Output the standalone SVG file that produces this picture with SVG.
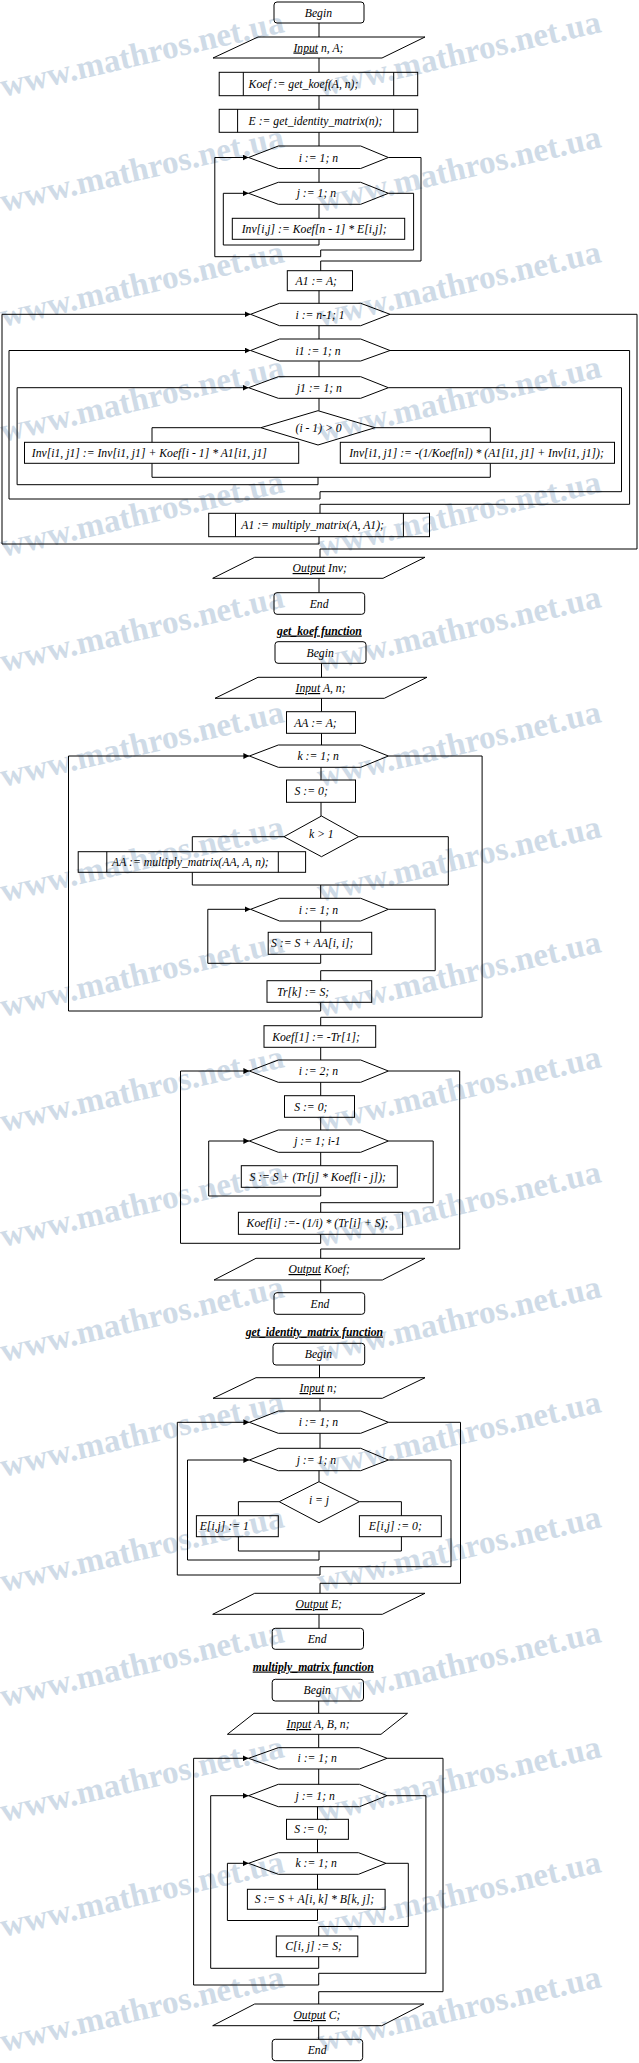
<svg xmlns="http://www.w3.org/2000/svg" width="639" height="2063" viewBox="0 0 639 2063">
<defs>
<marker id="arr" markerUnits="userSpaceOnUse" markerWidth="7" markerHeight="6" refX="6" refY="3" orient="auto"><path d="M0,0 L6,3 L0,6 z" fill="#000"/></marker>
</defs>
<style>
.s{fill:none;stroke:#000;stroke-width:1}
.c{fill:none;stroke:#000;stroke-width:1}
.a{marker-end:url(#arr)}
text{font-family:"Liberation Serif","Times New Roman",serif;font-style:italic;font-size:11.7px;fill:#000}
.t{font-weight:bold;text-decoration:underline}
.u{text-decoration:underline}
.wm{font-family:"Liberation Serif","Times New Roman",serif;font-style:normal;font-weight:bold;font-size:33px;fill:#cfdbe7}
</style>
<rect width="639" height="2063" fill="#fff"/>
<g id="watermark">
<text class="wm" x="3" y="97" transform="rotate(-13 3 97)">www.mathros.net.ua</text>
<text class="wm" x="320" y="97" transform="rotate(-13 320 97)">www.mathros.net.ua</text>
<text class="wm" x="3" y="212" transform="rotate(-13 3 212)">www.mathros.net.ua</text>
<text class="wm" x="320" y="212" transform="rotate(-13 320 212)">www.mathros.net.ua</text>
<text class="wm" x="3" y="327" transform="rotate(-13 3 327)">www.mathros.net.ua</text>
<text class="wm" x="320" y="327" transform="rotate(-13 320 327)">www.mathros.net.ua</text>
<text class="wm" x="3" y="442" transform="rotate(-13 3 442)">www.mathros.net.ua</text>
<text class="wm" x="320" y="442" transform="rotate(-13 320 442)">www.mathros.net.ua</text>
<text class="wm" x="3" y="557" transform="rotate(-13 3 557)">www.mathros.net.ua</text>
<text class="wm" x="320" y="557" transform="rotate(-13 320 557)">www.mathros.net.ua</text>
<text class="wm" x="3" y="672" transform="rotate(-13 3 672)">www.mathros.net.ua</text>
<text class="wm" x="320" y="672" transform="rotate(-13 320 672)">www.mathros.net.ua</text>
<text class="wm" x="3" y="787" transform="rotate(-13 3 787)">www.mathros.net.ua</text>
<text class="wm" x="320" y="787" transform="rotate(-13 320 787)">www.mathros.net.ua</text>
<text class="wm" x="3" y="902" transform="rotate(-13 3 902)">www.mathros.net.ua</text>
<text class="wm" x="320" y="902" transform="rotate(-13 320 902)">www.mathros.net.ua</text>
<text class="wm" x="3" y="1017" transform="rotate(-13 3 1017)">www.mathros.net.ua</text>
<text class="wm" x="320" y="1017" transform="rotate(-13 320 1017)">www.mathros.net.ua</text>
<text class="wm" x="3" y="1132" transform="rotate(-13 3 1132)">www.mathros.net.ua</text>
<text class="wm" x="320" y="1132" transform="rotate(-13 320 1132)">www.mathros.net.ua</text>
<text class="wm" x="3" y="1247" transform="rotate(-13 3 1247)">www.mathros.net.ua</text>
<text class="wm" x="320" y="1247" transform="rotate(-13 320 1247)">www.mathros.net.ua</text>
<text class="wm" x="3" y="1362" transform="rotate(-13 3 1362)">www.mathros.net.ua</text>
<text class="wm" x="320" y="1362" transform="rotate(-13 320 1362)">www.mathros.net.ua</text>
<text class="wm" x="3" y="1477" transform="rotate(-13 3 1477)">www.mathros.net.ua</text>
<text class="wm" x="320" y="1477" transform="rotate(-13 320 1477)">www.mathros.net.ua</text>
<text class="wm" x="3" y="1592" transform="rotate(-13 3 1592)">www.mathros.net.ua</text>
<text class="wm" x="320" y="1592" transform="rotate(-13 320 1592)">www.mathros.net.ua</text>
<text class="wm" x="3" y="1707" transform="rotate(-13 3 1707)">www.mathros.net.ua</text>
<text class="wm" x="320" y="1707" transform="rotate(-13 320 1707)">www.mathros.net.ua</text>
<text class="wm" x="3" y="1822" transform="rotate(-13 3 1822)">www.mathros.net.ua</text>
<text class="wm" x="320" y="1822" transform="rotate(-13 320 1822)">www.mathros.net.ua</text>
<text class="wm" x="3" y="1937" transform="rotate(-13 3 1937)">www.mathros.net.ua</text>
<text class="wm" x="320" y="1937" transform="rotate(-13 320 1937)">www.mathros.net.ua</text>
<text class="wm" x="3" y="2052" transform="rotate(-13 3 2052)">www.mathros.net.ua</text>
<text class="wm" x="320" y="2052" transform="rotate(-13 320 2052)">www.mathros.net.ua</text>
</g>

<g id="connectors">
<path class="c" d="M319,23 V37 M319,58 V72.3 M319,95.7 V109.3 M319,132.3 V146 M319,168.5 V182.3 M319,204.3 V218.3"/>
<path class="c a" d="M319,239.3 V245 H223.3 V193.3 H248.6"/>
<path class="c a" d="M388.4,193.3 H413.6 V250 H320.7 V256.7 H214.8 V157.5 H248.6"/>
<path class="c" d="M388.4,157.5 H421 V261 H320.7 V270.7"/>
<path class="c" d="M319,290.7 V303.3 M319,325.7 V339 M319,361 V376.7 M319,398.3 V410.7"/>
<path class="c" d="M260.8,427.7 H152 V442.3 M375,427.7 H490.3 V442.3 M152,463.3 V477.3 H490.3 V463.3"/>
<path class="c a" d="M318,477.3 V484.7 H17.1 V387.7 H248.6"/>
<path class="c a" d="M388.4,387.7 H621.5 V491.7 H320 V499 H9 V350.5 H250.6"/>
<path class="c" d="M390,350.5 H629.6 V504.3 H320 V513.3"/>
<path class="c a" d="M319,536.7 V544 H2 V314.3 H250.6"/>
<path class="c" d="M390,314.3 H637 V549 H320 V557.3 M319,578.3 V592.7"/>
<path class="c" d="M321.5,663.3 V677.3 M321.5,698.3 V711.7 M321.5,733.3 V745 M321,767.3 V780 M321,802.3 V816"/>
<path class="c" d="M284,836.7 H192.3 V851.7 M358.6,836.7 H448.3 V885 M192.3,872.3 V885 H448.3 M320.7,885 V898.3 M320.7,921 V932.3"/>
<path class="c a" d="M320.7,954.3 V963.3 H207.8 V909.3 H250.6"/>
<path class="c" d="M388.4,909.3 H435.2 V970.7 H320.7 V980.7"/>
<path class="c a" d="M320.7,1002.3 V1011 H68.5 V756 H249.4"/>
<path class="c" d="M388.4,756 H482.1 V1017.3 H320.7 V1025.7 M320.7,1047.3 V1060 M320.7,1082.3 V1095.7 M320.7,1117.3 V1130 M320.7,1152.3 V1165.7"/>
<path class="c a" d="M320.7,1187.3 V1196 H208.7 V1141 H249.4"/>
<path class="c" d="M388.4,1141 H433.2 V1202.7 H320.7 V1212.3"/>
<path class="c a" d="M320.7,1234.3 V1243.3 H180.5 V1071 H249.4"/>
<path class="c" d="M388.4,1071 H459.7 V1249 H320.7 V1258.3 M320.7,1280 V1292.7"/>
<path class="c" d="M319.5,1365 V1377.7 M320,1398.3 V1411 M320,1433.3 V1448.3 M319,1470.7 V1481.7"/>
<path class="c" d="M279.2,1501.7 H238.4 V1515.7 M359.4,1501.7 H401.4 V1515.7 M238.4,1536.7 V1551 H401.4 V1536.7"/>
<path class="c a" d="M319,1551 V1560 H187.5 V1460 H249.4"/>
<path class="c a" d="M388.4,1460 H451 V1566.7 H320 V1575 H177.3 V1422.3 H249.4"/>
<path class="c" d="M388.4,1422.3 H460.5 V1583.3 H320 V1593.3 M319,1614.3 V1628.3"/>
<path class="c" d="M318.7,1701 V1713.3 M318.7,1734.3 V1747.7 M318.7,1769 V1784.3 M317.5,1806.7 V1819.3 M317.5,1839.3 V1852.7 M317.5,1874.3 V1889.3"/>
<path class="c a" d="M317.5,1909.3 V1920.5 H227.4 V1863.3 H248.6"/>
<path class="c" d="M386,1863.3 H408.3 V1926.5 H318.7 V1936"/>
<path class="c a" d="M318.7,1956.7 V1968.3 H210.7 V1795.7 H248.6"/>
<path class="c a" d="M387,1795.7 H425.9 V1973.3 H318.7 V1985 H193.6 V1758.3 H248.6"/>
<path class="c" d="M387.1,1758.3 H443 V1991.7 H318.7 V2004 M318.7,2025.7 V2039.3"/>
</g>

<g id="begin1"><rect class="s" x="274" y="2" width="90" height="21" rx="3"/><text x="304.8" y="16.5">Begin</text></g>
<g id="input1"><polygon class="s" points="258,37 425,37 382,58 213,58"/><text x="293.4" y="51.5"><tspan class="u">Input</tspan> n, A;</text></g>
<g id="koef"><rect class="s" x="219.2" y="72.3" width="198.5" height="23.4"/><path class="s" d="M243.3,72.3 V95.7 M393.7,72.3 V95.7"/><text x="248.6" y="88">Koef := get_koef(A, n);</text></g>
<g id="ecall"><rect class="s" x="219.2" y="109.3" width="198.5" height="23"/><path class="s" d="M237.6,109.3 V132.3 M393.7,109.3 V132.3"/><text x="248.6" y="124.8">E := get_identity_matrix(n);</text></g>
<g id="loop_i1"><polygon class="s" points="248.6,157.5 278.3,146 360.7,146 388.4,157.5 360.7,168.5 278.3,168.5"/><text x="298.7" y="161.5">i := 1; n</text></g>
<g id="loop_j1"><polygon class="s" points="248.6,193.3 278.3,182.3 360.7,182.3 388.4,193.3 360.7,204.3 278.3,204.3"/><text x="296.7" y="197.3">j := 1; n</text></g>
<g id="inv_init"><rect class="s" x="232.3" y="218.3" width="172.4" height="21"/><text x="241.7" y="232.8">Inv[i,j] := Koef[n - 1] * E[i,j];</text></g>
<g id="a1"><rect class="s" x="287.3" y="270.7" width="65.2" height="20"/><text x="295.5" y="284.7">A1 := A;</text></g>
<g id="loop_i"><polygon class="s" points="250.6,314.3 279.5,303.3 360.7,303.3 390,314.3 360.7,325.7 279.5,325.7"/><text x="295.5" y="318.5">i := n-1; 1</text></g>
<g id="loop_i1b"><polygon class="s" points="250.6,350.5 279.5,339 360.7,339 390,350.5 360.7,361 279.5,361"/><text x="295.5" y="354.5">i1 := 1; n</text></g>
<g id="loop_j1b"><polygon class="s" points="248.6,387.7 278.3,376.7 360.7,376.7 388.4,387.7 360.7,398.3 278.3,398.3"/><text x="296.7" y="391.7">j1 := 1; n</text></g>
<g id="cond1"><polygon class="s" points="318,410.7 375,427.7 318,445 260.8,427.7"/><text x="295.5" y="432">(i - 1) &gt; 0</text></g>
<g id="inv_a"><rect class="s" x="24.5" y="442.3" width="274.2" height="21"/><text x="31.8" y="456.8">Inv[i1, j1] := Inv[i1, j1] + Koef[i - 1] * A1[i1, j1]</text></g>
<g id="inv_b"><rect class="s" x="340.3" y="442.3" width="274.2" height="21"/><text x="349.2" y="456.8">Inv[i1, j1] := -(1/Koef[n]) * (A1[i1, j1] + Inv[i1, j1]);</text></g>
<g id="mult1"><rect class="s" x="208.7" y="513.3" width="220.8" height="23.4"/><path class="s" d="M235.5,513.3 V536.7 M403.4,513.3 V536.7"/><text x="241.3" y="529">A1 := multiply_matrix(A, A1);</text></g>
<g id="output1"><polygon class="s" points="254.7,557.3 425,557.3 383,578.3 212.7,578.3"/><text x="292.6" y="572"><tspan class="u">Output</tspan> Inv;</text></g>
<g id="end1"><rect class="s" x="274" y="592.7" width="90.7" height="21.6" rx="3"/><text x="309.7" y="607.5">End</text></g>

<g id="title2"><text class="t" x="277.1" y="634.5">get_koef function</text></g>
<g id="begin2"><rect class="s" x="275" y="641.7" width="91" height="21.6" rx="3"/><text x="306.5" y="656.5">Begin</text></g>
<g id="input2"><polygon class="s" points="258,677.3 427,677.3 384.3,698.3 215,698.3"/><text x="295.5" y="692"><tspan class="u">Input</tspan> A, n;</text></g>
<g id="aa"><rect class="s" x="286.5" y="711.7" width="69" height="21.6"/><text x="294.2" y="726.5">AA := A;</text></g>
<g id="loop_k"><polygon class="s" points="249.4,756 278.3,745 360.7,745 388.4,756 360.7,767.3 278.3,767.3"/><text x="297.5" y="760">k := 1; n</text></g>
<g id="s0a"><rect class="s" x="286.5" y="780" width="69" height="22.3"/><text x="294.6" y="795">S := 0;</text></g>
<g id="cond2"><polygon class="s" points="321.5,816 358.6,836.7 321.5,856.7 284,836.7"/><text x="308.9" y="837.5">k &gt; 1</text></g>
<g id="mult2"><rect class="s" x="78.2" y="851.7" width="227.4" height="20.6"/><path class="s" d="M106.8,851.7 V872.3 M278.3,851.7 V872.3"/><text x="112" y="866">AA := multiply_matrix(AA, A, n);</text></g>
<g id="loop_i2"><polygon class="s" points="250.6,909.3 279.5,898.3 360.7,898.3 388.4,909.3 360.7,921 279.5,921"/><text x="298.7" y="913.5">i := 1; n</text></g>
<g id="ssum1"><rect class="s" x="268.2" y="932.3" width="103.5" height="22"/><text x="271" y="947.3">S := S + AA[i, i];</text></g>
<g id="trk"><rect class="s" x="267" y="980.7" width="104.7" height="21.6"/><text x="277.1" y="995.5">Tr[k] := S;</text></g>
<g id="koef1"><rect class="s" x="264" y="1025.7" width="111.7" height="21.6"/><text x="272.2" y="1040.5">Koef[1] := -Tr[1];</text></g>
<g id="loop_i3"><polygon class="s" points="249.4,1071 278.3,1060 360.7,1060 388.4,1071 360.7,1082.3 278.3,1082.3"/><text x="298.7" y="1075">i := 2; n</text></g>
<g id="s0b"><rect class="s" x="284.5" y="1095.7" width="70" height="21.6"/><text x="294.2" y="1110.5">S := 0;</text></g>
<g id="loop_j3"><polygon class="s" points="249.4,1141 278.3,1130 360.7,1130 388.4,1141 360.7,1152.3 278.3,1152.3"/><text x="294.2" y="1145">j := 1; i-1</text></g>
<g id="ssum2"><rect class="s" x="241.3" y="1165.7" width="156" height="21.6"/><text x="249.4" y="1180.5">S := S + (Tr[j] * Koef[i - j]);</text></g>
<g id="koefi"><rect class="s" x="238.4" y="1212.3" width="164.2" height="22"/><text x="246.6" y="1227.3">Koef[i] :=- (1/i) * (Tr[i] + S);</text></g>
<g id="output2"><polygon class="s" points="256,1258.3 425,1258.3 382.3,1280 214,1280"/><text x="288.5" y="1273"><tspan class="u">Output</tspan> Koef;</text></g>
<g id="end2"><rect class="s" x="274" y="1292.7" width="90.7" height="21.6" rx="3"/><text x="310.5" y="1307.5">End</text></g>

<g id="title3"><text class="t" x="245.7" y="1335.5">get_identity_matrix function</text></g>
<g id="begin3"><rect class="s" x="273" y="1343.3" width="91.7" height="21.7" rx="3"/><text x="304.8" y="1358">Begin</text></g>
<g id="input3"><polygon class="s" points="256,1377.7 425,1377.7 382.3,1398.3 213,1398.3"/><text x="299.5" y="1392"><tspan class="u">Input</tspan> n;</text></g>
<g id="loop_i4"><polygon class="s" points="249.4,1422.3 278.3,1411 360.7,1411 388.4,1422.3 360.7,1433.3 278.3,1433.3"/><text x="298.7" y="1426.3">i := 1; n</text></g>
<g id="loop_j4"><polygon class="s" points="249.4,1460 278.3,1448.3 360.7,1448.3 388.4,1460 360.7,1470.7 278.3,1470.7"/><text x="296.7" y="1464">j := 1; n</text></g>
<g id="cond3"><polygon class="s" points="319,1481.7 359.4,1501.7 319,1522.7 279.2,1501.7"/><text x="308.9" y="1504">i = j</text></g>
<g id="e1"><rect class="s" x="196.4" y="1515.7" width="81.9" height="21"/><text x="199.7" y="1530.2">E[i,j] := 1</text></g>
<g id="e0"><rect class="s" x="359.4" y="1515.7" width="81.9" height="21"/><text x="368.8" y="1530.2">E[i,j] := 0;</text></g>
<g id="output3"><polygon class="s" points="254.7,1593.3 425,1593.3 382.3,1614.3 212.7,1614.3"/><text x="295.5" y="1608"><tspan class="u">Output</tspan> E;</text></g>
<g id="end3"><rect class="s" x="272.2" y="1628.3" width="91.3" height="21" rx="3"/><text x="307.7" y="1643">End</text></g>

<g id="title4"><text class="t" x="252.7" y="1670.5">multiply_matrix function</text></g>
<g id="begin4"><rect class="s" x="272.2" y="1679.3" width="91.3" height="21.7" rx="3"/><text x="303.6" y="1694">Begin</text></g>
<g id="input4"><polygon class="s" points="254,1713.3 407.5,1713.3 381,1734.3 227.4,1734.3"/><text x="286.5" y="1728"><tspan class="u">Input</tspan> A, B, n;</text></g>
<g id="loop_i5"><polygon class="s" points="248.6,1758.3 278.3,1747.7 359.5,1747.7 387.1,1758.3 359.5,1769 278.3,1769"/><text x="297.5" y="1762.3">i := 1; n</text></g>
<g id="loop_j5"><polygon class="s" points="248.6,1795.7 278.3,1784.3 359.5,1784.3 387,1795.7 359.5,1806.7 278.3,1806.7"/><text x="295.5" y="1799.7">j := 1; n</text></g>
<g id="s0c"><rect class="s" x="286.5" y="1819.3" width="61.9" height="20"/><text x="294.2" y="1833.3">S := 0;</text></g>
<g id="loop_k5"><polygon class="s" points="248.6,1863.3 278.3,1852.7 358.5,1852.7 386,1863.3 358.5,1874.3 278.3,1874.3"/><text x="295.5" y="1867.3">k := 1; n</text></g>
<g id="ssum3"><rect class="s" x="247.4" y="1889.3" width="137.7" height="20"/><text x="254.7" y="1903.3">S := S + A[i, k] * B[k, j];</text></g>
<g id="cij"><rect class="s" x="276.3" y="1936" width="81.5" height="20.7"/><text x="285.3" y="1950.3">C[i, j] := S;</text></g>
<g id="output4"><polygon class="s" points="254.7,2004 423.8,2004 381.8,2025.7 212.7,2025.7"/><text x="293.4" y="2019"><tspan class="u">Output</tspan> C;</text></g>
<g id="end4"><rect class="s" x="272.2" y="2039.3" width="90.5" height="21.4" rx="3"/><text x="307.7" y="2054">End</text></g>
</svg>
